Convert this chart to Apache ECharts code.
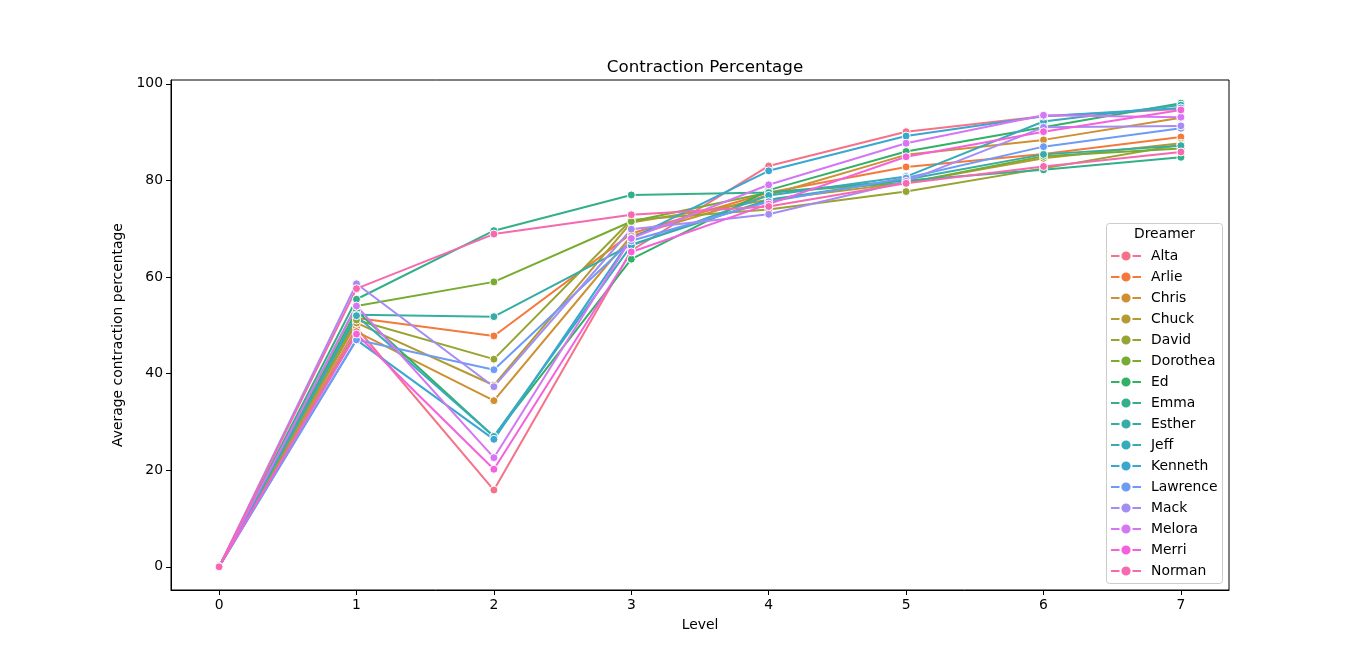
<!DOCTYPE html>
<html>
<head>
<meta charset="utf-8">
<title>Contraction Percentage</title>
<script src="https://cdn.jsdelivr.net/npm/echarts@6/dist/echarts.min.js"></script>
<style>
  html, body { margin: 0; padding: 0; background: #fff; }
  #chart { width: 1366px; height: 663px; }
</style>
</head>
<body>
<div id="chart"></div>
<script>
// levels on the x axis
const levels = [0, 1, 2, 3, 4, 5, 6, 7];
const xTicks = [0, 1, 2, 3, 4, 5, 6, 7];
const yTicks = [0, 20, 40, 60, 80, 100];

const dreamers = ['Alta', 'Arlie', 'Chris', 'Chuck', 'David', 'Dorothea', 'Ed', 'Emma',
  'Esther', 'Jeff', 'Kenneth', 'Lawrence', 'Mack', 'Melora', 'Merri', 'Norman'];

const colors = ['#f77189', '#f5793a', '#ce9032', '#b39a31', '#97a431', '#77ab31', '#32b166', '#34af89',
  '#36ada4', '#37abb9', '#39a7d0', '#6e9bf4', '#a48cf4', '#d576f4', '#f561dd', '#f668b0'];

// average contraction percentage per level
const alta     = [0, 49.5, 15.9, 65.5, 83.0, 90.1, 93.3, 94.8];
const arlie    = [0, 51.5, 47.8, 69.0, 77.5, 82.8, 85.5, 89.0];
const chris    = [0, 48.7, 34.4, 68.5, 77.0, 85.3, 88.4, 93.0];
const chuck    = [0, 50.5, 37.6, 71.3, 76.0, 79.5, 84.6, 87.7];
const david    = [0, 51.1, 43.0, 71.8, 74.0, 77.7, 82.5, 87.4];
const dorothea = [0, 54.0, 59.0, 71.5, 77.5, 79.5, 85.0, 86.6];
const ed       = [0, 53.0, 27.0, 63.7, 78.0, 86.0, 91.0, 96.0];
const emma     = [0, 55.4, 69.6, 77.0, 77.5, 80.0, 82.2, 84.8];
const esther   = [0, 52.2, 51.8, 66.7, 76.0, 80.2, 85.4, 87.2];
const jeff     = [0, 52.0, 27.0, 66.5, 76.9, 80.8, 92.2, 95.6];
const kenneth  = [0, 47.0, 26.4, 68.0, 82.0, 89.2, 93.3, 95.0];
const lawrence = [0, 47.0, 40.8, 67.5, 75.6, 80.5, 87.0, 90.8];
const mack     = [0, 58.6, 37.3, 69.9, 73.0, 79.8, 91.0, 91.3];
const melora   = [0, 54.0, 22.6, 68.0, 79.1, 87.7, 93.5, 93.1];
const merri    = [0, 48.2, 20.2, 65.2, 75.1, 84.9, 90.1, 94.6];
const norman   = [0, 57.6, 68.9, 72.9, 74.6, 79.4, 82.9, 85.9];

const values = [alta, arlie, chris, chuck, david, dorothea, ed, emma,
  esther, jeff, kenneth, lawrence, mack, melora, merri, norman];

const font = 'DejaVu Sans';
const chart = echarts.init(document.getElementById('chart'));

const series = dreamers.map((name, i) => ({
  name: name,
  type: 'line',
  data: levels.map((lv, j) => [lv, values[i][j]]),
  symbol: 'circle',
  symbolSize: 8,
  showSymbol: true,
  lineStyle: { width: 2, color: colors[i] },
  itemStyle: { color: colors[i], borderColor: '#fff', borderWidth: 1 },
  emphasis: { disabled: true },
  animation: false
}));

chart.setOption({
  backgroundColor: '#fff',
  animation: false,
  textStyle: { fontFamily: font },
  title: {
    text: 'Contraction Percentage',
    left: 700,
    top: 54,
    textAlign: 'center',
    textStyle: { fontFamily: font, fontSize: 16.7, fontWeight: 'normal', color: '#000' }
  },
  grid: {
    left: 171, right: 137, top: 80, bottom: 73,
    show: true, borderColor: '#000', borderWidth: 1, backgroundColor: 'transparent'
  },
  xAxis: {
    type: 'value',
    min: -0.35,
    max: 7.35,
    name: 'Level',
    nameLocation: 'middle',
    nameGap: 28,
    nameTextStyle: { fontFamily: font, fontSize: 13.9, color: '#000' },
    axisLine: { show: true, onZero: false, lineStyle: { color: '#000', width: 1 } },
    axisTick: { show: true, length: 5, customValues: xTicks, lineStyle: { color: '#000' } },
    axisLabel: { customValues: xTicks, fontFamily: font, fontSize: 13.9, color: '#000', margin: 8 },
    splitLine: { show: false }
  },
  yAxis: {
    type: 'value',
    min: -4.8,
    max: 100.8,
    name: 'Average contraction percentage',
    nameLocation: 'middle',
    nameGap: 40,
    nameRotate: 90,
    nameTextStyle: { fontFamily: font, fontSize: 13.9, color: '#000' },
    axisLine: { show: true, onZero: false, lineStyle: { color: '#000', width: 1 } },
    axisTick: { show: true, length: 5, customValues: yTicks, lineStyle: { color: '#000' } },
    axisLabel: { customValues: yTicks, fontFamily: font, fontSize: 13.9, color: '#000', margin: 8 },
    splitLine: { show: false }
  },
  legend: {
    orient: 'vertical',
    left: 1105,
    top: 244,
    itemWidth: 30,
    itemHeight: 14,
    itemGap: 7,
    data: dreamers,
    textStyle: { fontFamily: font, fontSize: 13.9, color: '#000', padding: [0, 0, 0, 5] },
    selectedMode: false
  },
  graphic: [
    {
      type: 'rect',
      left: 1106, top: 223,
      shape: { width: 116, height: 360, r: 3 },
      style: { fill: 'rgba(255,255,255,0.8)', stroke: '#cccccc', lineWidth: 1 },
      z: 0
    },
    {
      type: 'text',
      left: 1134, top: 227,
      style: { text: 'Dreamer', fontFamily: font, fontSize: 13.9, fill: '#000' },
      z: 1
    }
  ],
  series: series
});
</script>
</body>
</html>
